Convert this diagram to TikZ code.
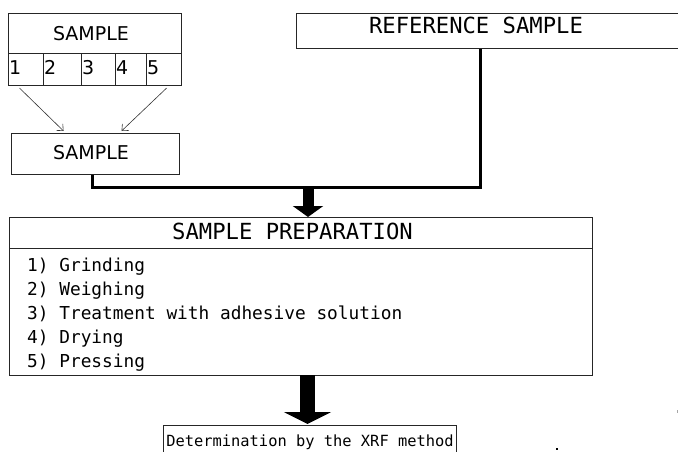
\documentclass[tikz,border=0pt]{standalone}
\usepackage{fontspec}
\newfontfamily\monof{DejaVu Sans Mono}
\newfontfamily\sansf{DejaVu Sans}
\usetikzlibrary{arrows.meta}
\begin{document}
\begin{tikzpicture}[x=1pt,y=-1pt,
  box/.style={draw=black!85, line width=1.1pt, inner sep=0pt, anchor=north west},
  lbl/.style={inner sep=0pt, anchor=base},
  lblw/.style={inner sep=0pt, anchor=base west},
  thinarrow/.style={line width=0.6pt, black!80, -{Straight Barb[length=5pt,width=9pt]}},
  bus/.style={line width=3pt, line join=miter},
  bigarrowA/.style={line width=11pt, -{Triangle[length=11pt,width=30pt]}},
  bigarrowB/.style={line width=15pt, -{Triangle[length=12pt,width=47pt]}}]
\clip (0,0) rectangle (678,452);
\useasboundingbox (0,0) rectangle (678,452);
% top SAMPLE box
\node[box, minimum width=173pt, minimum height=40pt] (s1) at (8,13) {};
\node[lbl, font=\sansf\fontsize{19}{19}\selectfont] (s1t) at (91,41) {SAMPLE};
\foreach \i/\a/\b in {1/8/43,2/43/81,3/81/115,4/115/146,5/146/181}{
  \node[box, minimum width=\b-\a, minimum height=32pt] (c\i) at (\a,53) {};
  \node[lblw, font=\sansf\fontsize{19}{19}\selectfont] (d\i) at (\a+1,75) {\i};
}
% lower SAMPLE box
\node[box, minimum width=168pt, minimum height=41pt] (s2) at (11,133) {};
\node[lbl, font=\sansf\fontsize{19}{19}\selectfont] (s2t) at (91,159) {SAMPLE};
\draw[thinarrow] ([xshift=-6.5pt,yshift=-2pt]c1.south) -- ([xshift=-32pt,yshift=2pt]s2.north);
\draw[thinarrow] ([xshift=2.5pt,yshift=-2pt]c5.south) -- ([xshift=26pt,yshift=2pt]s2.north);
% reference sample
\node[box, minimum width=381.5pt, minimum height=35pt] (ref) at (296,13) {};
\node[lbl, font=\monof\fontsize{22.2}{22}\selectfont] (reft) at (476,34) {REFERENCE SAMPLE};
% bus
\coordinate (b1) at (92,187);
\coordinate (b2) at (480,187);
\coordinate (j) at (308,186);
\draw[bus] (s2.south -| b1) -- (b1) -- (b2) -- (ref.south -| b2);
% sample preparation
\node[box, minimum width=583pt, minimum height=31pt] (prept) at (9,217) {};
\node[box, minimum width=583pt, minimum height=127pt] (prepb) at (9,248) {};
\node[lbl, font=\monof\fontsize{22.2}{22}\selectfont] (prepl) at (292.5,239) {SAMPLE PREPARATION};
\draw[bigarrowA] (j) -- (j |- prept.north);
\foreach \t [count=\k] in {1) Grinding, 2) Weighing, 3) Treatment with adhesive solution, 4) Drying, 5) Pressing}{
  \node[lblw, font=\monof\fontsize{17.8}{18}\selectfont] (it\k) at (27,{271+24*(\k-1)}) {\t};
}
% XRF
\node[box, minimum width=293pt, minimum height=33pt] (xrf) at (163,425) {};
\node[lbl, font=\monof\fontsize{15.4}{15}\selectfont] (xrft) at (310,446) {Determination by the XRF method};
\coordinate (k) at (307.5,375);
\draw[bigarrowB] (k) -- ([yshift=1pt]k |- xrf.north);
% stray marks
\fill (556,448) rectangle (558,450);
\fill[black!35] (676.5,410) rectangle (677.5,413);
\end{tikzpicture}
\end{document}
